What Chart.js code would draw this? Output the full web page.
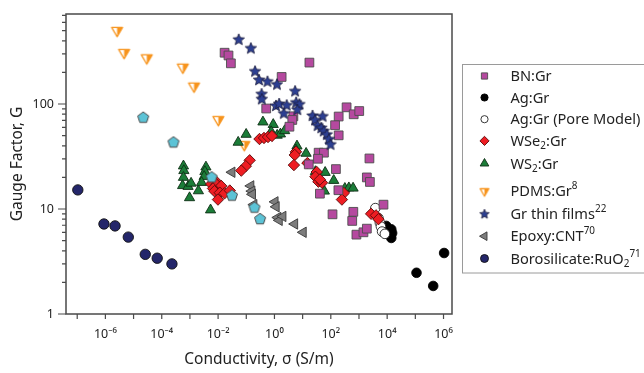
<!DOCTYPE html>
<html>
<head>
<meta charset="utf-8">
<script src="https://cdn.jsdelivr.net/npm/chart.js@4.4.0/dist/chart.umd.min.js"></script>
<style>
  html, body { margin: 0; padding: 0; background: #fff; }
  #wrap { width: 644px; height: 373px; }
</style>
</head>
<body>
<div id="wrap"><canvas id="chart" width="644" height="373"></canvas></div>
<script>
// [conductivity S/m, gauge factor]
const bnGr = [[0.017,308],[0.0234,290],[0.0284,244],[17.4,248],[1.8,181],[0.51,90.6],[4.7,76.4],[4.3,70.5],
  [3.4,60.8],[363,93],[649,79.8],[1020,85.7],[190,76],[142,62.8],[190,50.3],[37,34.4],[57,34.4],[35,30.1],
  [2350,30.3],[16.5,26.6],[152,24],[1900,20],[2440,18.1],[186,15.1],[41,14],[7400,11],[115,8.9],[630,9.4],
  [575,7.7],[810,5.7],[1440,6],[1900,6.5]];
const agGr = [[9300,6.9],[14000,6.4],[15000,5.9],[14000,5.3],[110000,2.47],[430000,1.85],[1050000,3.81]];
const agGrPore = [[3800,10.2],[4900,8.2],[5500,7.4],[6000,6.8],[6600,6.1],[8300,5.8]];
const wse2Gr = [[0.132,29.1],[0.096,25.6],[0.0665,23.2],[0.0081,18.5],[0.0057,17.3],[0.0088,17.1],[0.0129,16.6],
  [0.0066,15.7],[0.0074,14.8],[0.0115,14.3],[0.0169,14.1],[0.026,15.0],[0.0099,12.3],[0.294,46.4],[0.425,47.5],
  [0.59,48.5],[0.815,49.6],[5.8,35.1],[5.25,32.7],[4.9,26.2],[31.6,22.5],[28.4,20.3],[36.3,18.2],[49,17.8],
  [41,19.1],[292,14.2],[248,12.3],[2690,9.0],[4000,8.7],[4900,8.0],[14.8,27.4]];
const ws2Gr = [[5.9e-4,25.7],[6.1e-4,23.2],[5.9e-4,20],[5.5e-4,16.7],[8.6e-4,16.4],[1.1e-3,17.6],[2.0e-3,14.9],
  [9.7e-4,12.8],[3.7e-3,25.1],[3.4e-3,22.7],[3.2e-3,20.4],[2.6e-3,17.9],[5.4e-3,9.8],[0.099,51.4],[0.0516,43.2],
  [0.39,67.4],[0.906,63.8],[0.764,54.5],[1.25,50.4],[1.63,51.8],[2.3,55.7],[6.3,39.8],[13.3,33.9],[5.75,36.5],
  [28.4,22.7],[63,22.3],[127,18.7],[59,14.8],[316,15.7],[438,15.9],[617,15.8]];
const pdmsGr = [[2.6e-6,501],[4.6e-6,309],[2.95e-5,275],[5.6e-4,224],[1.4e-3,148],[0.0102,71],[0.085,41]];
const grThinFilms = [[0.054,409],[0.145,338],[0.204,204],[0.284,169],[0.565,163],[1.23,153],[5.4,132],[0.35,124],
  [0.355,111],[1.13,96],[1.47,100],[2.73,97],[2.14,81],[5.9,103],[7.7,99],[6.5,88],[22.4,77],[51,76],[27.6,70],
  [34,62],[46,59],[56,55],[72,51],[86,46],[98,41]];
const epoxyCnt = [[0.031,22.4],[0.145,16.6],[0.158,14.8],[0.166,13.8],[0.186,11.0],[1.05,11.7],[1.15,10.5],
  [1.32,8.3],[1.48,7.8],[2.0,8.5],[5.2,7.2],[10.5,6.0]];
const boroRuO2 = [[1.05e-7,15.2],[8.9e-7,7.2],[2.2e-6,6.9],[6.5e-6,5.4],[2.6e-5,3.7],[6.9e-5,3.4],[2.3e-4,3.0]];
const unlabeled = [[2.2e-5,74],[2.6e-4,43],[5.9e-3,20],[0.031,13.4],[0.195,10.3],[0.31,8.0]];

const xTickExponents = [-7,-6,-5,-4,-3,-2,-1,0,1,2,3,4,5,6];
const yTickValues = [1,2,3,4,5,6,7,8,9,10,20,30,40,50,60,70,80,90,100,200,300,400,500,600,700];
const yLabelled = [1,10,100];

const axisColor = '#4a4a4a';
const textColor = '#222';
const fontFamily = '"Noto Sans", "Open Sans", sans-serif';

const SUP = {'-':'\u207B','0':'\u2070','1':'\u00B9','2':'\u00B2','3':'\u00B3','4':'\u2074','5':'\u2075','6':'\u2076','7':'\u2077','8':'\u2078','9':'\u2079'};
function sup(s) { return String(s).split('').map(c => SUP[c] || c).join(''); }

// custom marker bitmaps
function markerCanvas(kind, r, fill, stroke) {
  const s = Math.ceil(r * 2 + 4);
  const c = document.createElement('canvas');
  c.width = s; c.height = s;
  const g = c.getContext('2d');
  const cx = s / 2, cy = s / 2;
  g.lineJoin = 'round';
  if (kind === 'star') {
    g.beginPath();
    for (let i = 0; i < 10; i++) {
      const rr = i % 2 ? r * 0.45 : r;
      const a = -Math.PI / 2 + i * Math.PI / 5;
      g.lineTo(cx + rr * Math.cos(a), cy + rr * Math.sin(a));
    }
    g.closePath();
    g.fillStyle = fill; g.fill();
    g.lineWidth = 0.8; g.strokeStyle = stroke; g.stroke();
  } else if (kind === 'pentagon') {
    g.beginPath();
    for (let i = 0; i < 5; i++) {
      const a = -Math.PI / 2 + i * 2 * Math.PI / 5;
      g.lineTo(cx + r * Math.cos(a), cy + r * Math.sin(a));
    }
    g.closePath();
    g.fillStyle = fill; g.fill();
    g.lineWidth = 1; g.strokeStyle = stroke; g.stroke();
  } else if (kind === 'halfDown') {
    const h = r * 0.866;
    g.beginPath();
    g.moveTo(cx - h, cy - r / 2); g.lineTo(cx + h, cy - r / 2); g.lineTo(cx, cy + r); g.closePath();
    g.fillStyle = '#fff'; g.fill();
    g.beginPath();
    g.moveTo(cx, cy - r / 2); g.lineTo(cx + h, cy - r / 2); g.lineTo(cx, cy + r); g.closePath();
    g.fillStyle = fill; g.fill();
    g.beginPath();
    g.moveTo(cx - h, cy - r / 2); g.lineTo(cx + h, cy - r / 2); g.lineTo(cx, cy + r); g.closePath();
    g.lineWidth = 1.3; g.strokeStyle = stroke; g.stroke();
  }
  return c;
}

const series = [
  {key: 'unlabeled', label: null, data: unlabeled, style: markerCanvas('pentagon', 5.8, '#5cc3d6', '#4a4a4a'), fill: '#5cc3d6', stroke: '#4a4a4a'},
  {key: 'thin', label: 'Gr thin films^22', data: grThinFilms, style: markerCanvas('star', 6, '#2c3f92', '#1a1a3a'),
    legendStyle: markerCanvas('star', 5, '#2c3f92', '#1a1a3a'), fill: '#2c3f92', stroke: '#1a1a3a'},
  {key: 'bn', label: 'BN:Gr', data: bnGr, style: 'rect', radius: 6.2, legendRadius: 4.4, fill: '#b5499f', stroke: '#4d4d4d'},
  {key: 'wse2', label: 'WSe_2:Gr', data: wse2Gr, style: 'rectRot', radius: 5.7, legendRadius: 4.6, fill: '#ee1d23', stroke: '#5a0a0a'},
  {key: 'ws2', label: 'WS_2:Gr', data: ws2Gr, style: 'triangle', radius: 5.9, legendRadius: 5, fill: '#1b7d38', stroke: '#0f2f15'},
  {key: 'pdms', label: 'PDMS:Gr^8', data: pdmsGr, style: markerCanvas('halfDown', 6.3, '#f7941d', '#f7941d'),
    legendStyle: markerCanvas('halfDown', 5, '#f7941d', '#f7941d'), fill: '#f7941d', stroke: '#f7941d'},
  {key: 'pore', label: 'Ag:Gr (Pore Model)', data: agGrPore, style: 'circle', radius: 4.8, legendRadius: 3.6, fill: '#ffffff', stroke: '#222'},
  {key: 'ag', label: 'Ag:Gr', data: agGr, style: 'circle', radius: 4.8, legendRadius: 3.6, fill: '#000000', stroke: '#000'},
  {key: 'epoxy', label: 'Epoxy:CNT^70', data: epoxyCnt, style: 'triangle', rotation: -90, radius: 6, legendRadius: 5, fill: '#7d7d7d', stroke: '#3a3a3a'},
  {key: 'boro', label: 'Borosilicate:RuO_2^71', data: boroRuO2, style: 'circle', radius: 5.2, legendRadius: 4, fill: '#24266a', stroke: '#111'}
];
const legendOrder = ['bn','ag','pore','wse2','ws2','pdms','thin','epoxy','boro'];
const legendRowY = [11.5, 33, 54.7, 76.4, 99, 126.7, 149.7, 171.7, 194];

const datasets = series.map(s => ({
  label: s.label || '',
  data: s.data.map(p => ({x: p[0], y: p[1]})),
  pointStyle: s.style,
  pointRadius: s.radius || 6,
  pointRotation: s.rotation || 0,
  backgroundColor: s.fill,
  borderColor: s.stroke,
  pointBorderWidth: 0.9,
  showLine: false
}));

function drawMarker(ctx, s, x, y) {
  const st = s.legendStyle || s.style;
  if (typeof st !== 'string') {
    ctx.drawImage(st, x - st.width / 2, y - st.height / 2);
    return;
  }
  const r = s.legendRadius;
  ctx.save();
  ctx.translate(x, y);
  ctx.rotate((s.rotation || 0) * Math.PI / 180);
  ctx.beginPath();
  if (st === 'circle') {
    ctx.arc(0, 0, r, 0, Math.PI * 2);
  } else if (st === 'rect') {
    const h = r * Math.SQRT1_2;
    ctx.rect(-h, -h, 2 * h, 2 * h);
  } else if (st === 'rectRot') {
    ctx.moveTo(0, -r); ctx.lineTo(r, 0); ctx.lineTo(0, r); ctx.lineTo(-r, 0); ctx.closePath();
  } else if (st === 'triangle') {
    ctx.moveTo(0, -r); ctx.lineTo(r * 0.866, r / 2); ctx.lineTo(-r * 0.866, r / 2); ctx.closePath();
  }
  ctx.fillStyle = s.fill; ctx.fill();
  ctx.lineWidth = 0.9; ctx.strokeStyle = s.stroke; ctx.stroke();
  ctx.restore();
}

// text with _sub and ^sup digit runs
function drawRich(ctx, text, x, y, size) {
  const parts = text.split(/([_^]\d+)/).filter(p => p.length);
  let cx = x;
  parts.forEach(p => {
    let fs = size, dy = 0, t = p;
    if (p[0] === '_') { t = p.slice(1); fs = size * 0.68; dy = size * 0.32; }
    else if (p[0] === '^') { t = p.slice(1); fs = size * 0.68; dy = -size * 0.38; }
    ctx.font = fs + 'px ' + fontFamily;
    ctx.fillText(t, cx, y + dy);
    cx += ctx.measureText(t).width;
  });
}

const framePlugin = {
  id: 'frame',
  afterDraw(chart) {
    const {ctx, chartArea: a, scales} = chart;
    ctx.save();
    ctx.strokeStyle = axisColor;
    ctx.lineWidth = 1.2;
    ctx.beginPath();
    scales.x.ticks.forEach(t => {
      const px = scales.x.getPixelForValue(t.value);
      ctx.moveTo(px, a.bottom); ctx.lineTo(px, a.bottom + 5);
    });
    scales.y.ticks.forEach(t => {
      const py = scales.y.getPixelForValue(t.value);
      const major = yLabelled.includes(t.value);
      ctx.moveTo(a.left, py); ctx.lineTo(a.left - (major ? 8 : 4), py);
    });
    ctx.stroke();
    ctx.lineWidth = 1.5;
    ctx.strokeRect(a.left, a.top, a.right - a.left, a.bottom - a.top);
    ctx.restore();
  }
};

const legendPlugin = {
  id: 'boxLegend',
  afterDraw(chart) {
    const {ctx, chartArea: a} = chart;
    const left = a.right + 10.5, top = 64.5, bottom = 273;
    ctx.save();
    ctx.strokeStyle = '#9a9a9a';
    ctx.lineWidth = 1;
    ctx.strokeRect(left, top, 300, bottom - top);
    ctx.fillStyle = textColor;
    ctx.textBaseline = 'middle';
    legendOrder.forEach((k, i) => {
      const s = series.find(d => d.key === k);
      const y = top + legendRowY[i];
      drawMarker(ctx, s, left + 22, y);
      ctx.fillStyle = textColor;
      drawRich(ctx, s.label, left + 48, y + 1, 14.6);
    });
    ctx.restore();
  }
};

new Chart(document.getElementById('chart'), {
  type: 'scatter',
  data: {datasets: datasets},
  options: {
    responsive: false,
    animation: false,
    events: [],
    layout: {padding: {top: 14, right: 192, left: 0, bottom: 0}},
    plugins: {legend: {display: false}, tooltip: {enabled: false}},
    scales: {
      x: {
        type: 'logarithmic',
        min: 4e-8,
        max: 2e6,
        afterBuildTicks: scale => { scale.ticks = xTickExponents.map(e => ({value: Math.pow(10, e)})); },
        afterFit: scale => { scale.height = 59; },
        grid: {display: true, drawOnChartArea: false, drawTicks: true, tickLength: 5, tickColor: 'rgba(0,0,0,0)'},
        border: {display: false},
        ticks: {
          autoSkip: false, maxRotation: 0, padding: 8, color: textColor,
          font: {family: fontFamily, size: 12.5},
          callback: v => {
            const e = Math.round(Math.log10(v));
            return e % 2 === 0 ? '10' + sup(e) : '';
          }
        },
        title: {display: true, text: 'Conductivity, \u03C3 (S/m)', color: textColor,
          font: {family: fontFamily, size: 15.5}, padding: {top: 0, bottom: 4}}
      },
      y: {
        type: 'logarithmic',
        min: 1,
        max: 720,
        afterBuildTicks: scale => { scale.ticks = yTickValues.map(v => ({value: v})); },
        afterFit: scale => { scale.width = 66; },
        grid: {display: true, drawOnChartArea: false, drawTicks: true, tickLength: 8, tickColor: 'rgba(0,0,0,0)'},
        border: {display: false},
        ticks: {
          autoSkip: false, padding: 4, color: textColor,
          font: {family: fontFamily, size: 12.5},
          callback: v => yLabelled.includes(v) ? String(v) : ''
        },
        title: {display: true, text: 'Gauge Factor, G', color: textColor,
          font: {family: fontFamily, size: 15.5}, padding: {top: 8, bottom: 0}}
      }
    }
  },
  plugins: [framePlugin, legendPlugin]
});
</script>
</body>
</html>
